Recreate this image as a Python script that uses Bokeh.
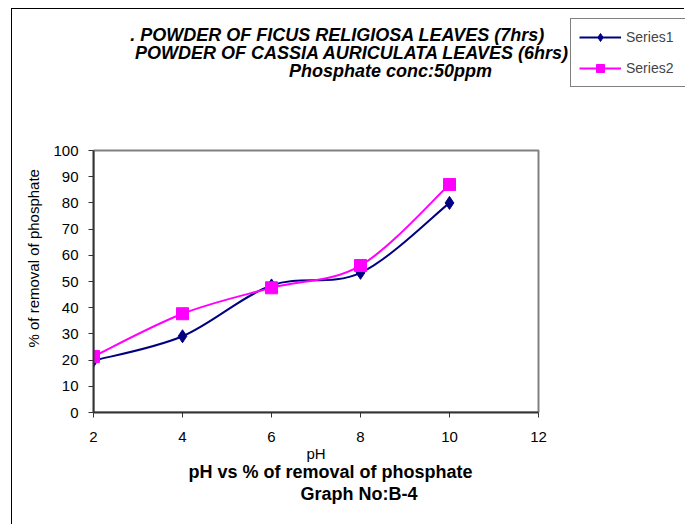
import numpy as np
from bokeh.plotting import figure
from bokeh.models import Range1d, FixedTicker, Legend, LegendItem, Title, Label
from bokeh.embed import file_html
from bokeh.resources import INLINE

# pH values and % removal of phosphate for the two leaf powders
ph = [2, 4, 6, 8, 10]
series1 = [19.8, 29.1, 48.5, 53.3, 80.0]   # Ficus religiosa leaves (7 hrs)
series2 = [21.4, 37.7, 47.6, 56.1, 87.0]   # Cassia auriculata leaves (6 hrs)
x_ticks = [2, 4, 6, 8, 10, 12]
y_ticks = [0, 10, 20, 30, 40, 50, 60, 70, 80, 90, 100]

title_lines = [
    ". POWDER OF FICUS RELIGIOSA LEAVES (7hrs)",
    "POWDER OF CASSIA AURICULATA LEAVES (6hrs)",
    "Phosphate conc:50ppm",
]
caption_lines = ["pH", "pH vs % of removal of phosphate", "Graph No:B-4"]

FONT = "Liberation Sans"

# the plotting frame runs up to the top/right edges of the canvas so the
# titles and legend can live inside it; the axes are bounded to the data box
X_END = 2 + (685 - 93) / 44.5
Y_END = (412 - 9) / 2.62
p = figure(width=673, height=516, output_backend="svg", toolbar_location=None,
           x_range=Range1d(x_ticks[0], X_END), y_range=Range1d(y_ticks[0], Y_END),
           min_border_left=81, min_border_right=0,
           min_border_top=0, min_border_bottom=113)
p.styles = {"margin-left": "11px", "margin-top": "8px",
            "border-top": "1px solid black", "border-left": "1px solid black"}
p.grid.visible = False
p.outline_line_color = None
p.background_fill_color = "white"
p.border_fill_color = "white"

for ax in (p.xaxis[0], p.yaxis[0]):
    ax.axis_line_color = "#333333"
    ax.axis_line_width = 2
    ax.major_tick_line_color = "#333333"
    ax.major_tick_line_width = 1
    ax.major_tick_out = 5
    ax.major_tick_in = 0
    ax.minor_tick_line_color = None
    ax.major_label_text_font = FONT
    ax.major_label_text_font_size = "15px"
    ax.major_label_text_color = "black"

p.xaxis[0].ticker = FixedTicker(ticks=x_ticks)
p.yaxis[0].ticker = FixedTicker(ticks=y_ticks)
p.xaxis[0].bounds = (x_ticks[0], x_ticks[-1])
p.yaxis[0].bounds = (y_ticks[0], y_ticks[-1])
p.xaxis[0].major_label_standoff = 14
p.yaxis[0].major_label_standoff = 10

# grey plot-area box
p.quad(left=x_ticks[0], right=x_ticks[-1], bottom=y_ticks[0], top=y_ticks[-1],
       fill_color=None, line_color="#808080", line_width=2)


def smooth_segments(xs, ys):
    """Cubic Bezier pieces through the points (Catmull-Rom style smoothing)."""
    n = len(xs)
    seg = dict(x0=[], y0=[], x1=[], y1=[], cx0=[], cy0=[], cx1=[], cy1=[])
    for i in range(n - 1):
        xm, ym = (xs[i - 1], ys[i - 1]) if i > 0 else (xs[i], ys[i])
        xp, yp = (xs[i + 2], ys[i + 2]) if i + 2 < n else (xs[i + 1], ys[i + 1])
        seg["x0"].append(xs[i]); seg["y0"].append(ys[i])
        seg["x1"].append(xs[i + 1]); seg["y1"].append(ys[i + 1])
        seg["cx0"].append(xs[i] + (xs[i + 1] - xm) / 6)
        seg["cy0"].append(ys[i] + (ys[i + 1] - ym) / 6)
        seg["cx1"].append(xs[i + 1] - (xp - xs[i]) / 6)
        seg["cy1"].append(ys[i + 1] - (yp - ys[i]) / 6)
    return seg


c1, c2 = "#000080", "#FF00FF"
p.bezier(**smooth_segments(ph, series1), line_color=c1, line_width=2)
m1 = p.scatter(ph, series1, marker="diamond", size=13, fill_color=c1, line_color=c1)
p.bezier(**smooth_segments(ph, series2), line_color=c2, line_width=2)
m2 = p.scatter(ph, series2, marker="square", size=12, fill_color=c2, line_color=c2)

# legend glyphs: a short line with the marker
l1 = p.line([ph[0]], [series1[0]], line_color=c1, line_width=2)
l2 = p.line([ph[0]], [series2[0]], line_color=c2, line_width=2)
legend = Legend(items=[LegendItem(label="Series1", renderers=[l1, m1]),
                       LegendItem(label="Series2", renderers=[l2, m2])],
                location=(477, 325), orientation="vertical",
                border_line_color="black", border_line_width=1,
                background_fill_color="white", background_fill_alpha=1,
                glyph_width=42, glyph_height=20, label_standoff=5,
                label_text_font=FONT, label_text_font_size="14px",
                label_width=95, spacing=11, padding=8, margin=0)
p.add_layout(legend, "center")

# three title lines above the plot box
title_pos = [(7.483, 144.27), (7.820, 137.40), (8.674, 130.53)]
for txt, (tx, ty) in zip(title_lines, title_pos):
    p.add_layout(Label(x=tx, y=ty, text=txt, text_align="center", text_baseline="middle",
                       text_font=FONT, text_font_style="bold italic",
                       text_font_size="18px", text_color="black"))

# x axis title and captions under the x axis
caption_offsets = [213, 95, 207]
caption_styles = ["normal", "bold", "bold"]
caption_sizes = ["15px", "18px", "18px"]
caption_standoffs = [-4, 0, 0]
for txt, off, sty, sz, so in zip(caption_lines, caption_offsets, caption_styles,
                                 caption_sizes, caption_standoffs):
    p.add_layout(Title(text=txt, align="left", offset=off, standoff=so,
                       text_font=FONT, text_font_style=sty,
                       text_font_size=sz, text_color="black"), "below")

# y axis title
p.add_layout(Title(text="% of removal of phosphate", align="left", offset=65,
                   standoff=17, text_font=FONT, text_font_style="normal",
                   text_font_size="15px", text_color="black"), "left")

open("out.html", "w").write(file_html(p, INLINE))
